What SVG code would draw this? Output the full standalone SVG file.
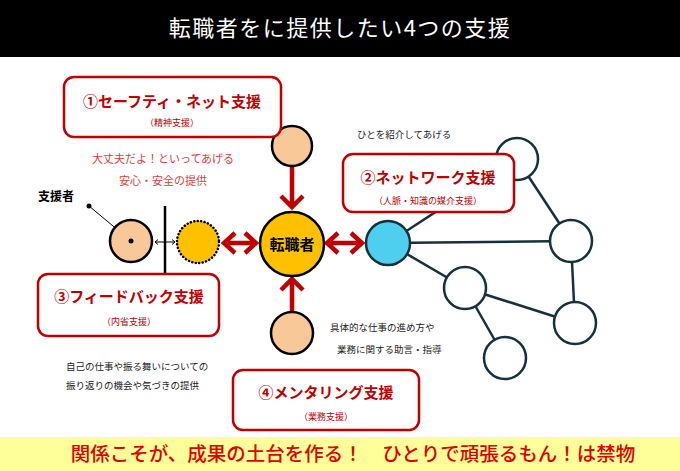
<svg xmlns="http://www.w3.org/2000/svg" width="680" height="471" viewBox="0 0 680 471">
<style>
text{font-family:"Noto Sans CJK JP","Noto Sans",sans-serif}
.box{fill:#fff;stroke:#c00000;stroke-width:2.5}
.bt{fill:#c00000;font-size:15px;font-weight:bold;text-anchor:middle}
.bs{fill:#c00000;font-size:9px;text-anchor:middle}
.rt{fill:#e03c3c;font-size:11px;text-anchor:middle}
.note{fill:#222;font-size:9.5px}
.peach{fill:#f9c899;stroke:#000;stroke-width:2.5}
.net{fill:#fff;stroke:#17313a;stroke-width:2.5}
.edge{stroke:#17313a;stroke-width:2.5;fill:none}
.ra{stroke:#c00000;stroke-width:4.5;fill:none;stroke-linejoin:miter}
</style>
<rect x="0" y="0" width="680" height="57" fill="#000"/>
<text x="340" y="36" fill="#fff" font-size="22" text-anchor="middle" letter-spacing="1.5">転職者をに提供したい4つの支援</text>
<rect x="0" y="437" width="680" height="34" fill="#ffff99"/>
<text x="353" y="461" fill="#e00000" font-size="19.5" font-weight="500" text-anchor="middle">関係こそが、成果の土台を作る！　ひとりで頑張るもん！は禁物</text>

<g id="connectors">
<line class="edge" x1="388" y1="243" x2="517" y2="159"/>
<line class="edge" x1="388" y1="243" x2="571" y2="241"/>
<line class="edge" x1="388" y1="243" x2="465" y2="288"/>
<line class="edge" x1="517" y1="159" x2="571" y2="241"/>
<line class="edge" x1="571" y1="241" x2="575" y2="323"/>
<line class="edge" x1="465" y1="288" x2="575" y2="323"/>
<line class="edge" x1="465" y1="288" x2="505" y2="358"/>
<path class="ra" d="M292,167 V206 M281,196 L292,207 L303,196"/>
<path class="ra" d="M292,312 V280 M281,290 L292,279 L303,290"/>
<path class="ra" d="M225,243 H256 M235,233 L224,243 L235,253 M245,233 L256,243 L245,253"/>
<path class="ra" d="M328,243 H361 M338,233 L327,243 L338,253 M351,233 L362,243 L351,253"/>
<line x1="165" y1="206" x2="165" y2="274" stroke="#000" stroke-width="2.5"/>
<path d="M155,242 H175 M158,239.5 L155,242 L158,244.5 M172,239.5 L175,242 L172,244.5" stroke="#000" stroke-width="1" fill="none"/>
<line x1="89" y1="206" x2="131" y2="241" stroke="#000" stroke-width="1"/>
<circle cx="89" cy="206" r="2.5" fill="#000"/>
</g>

<g id="net-nodes">
<circle class="net" cx="517" cy="159" r="21"/>
<circle class="net" cx="571" cy="241" r="21"/>
<circle class="net" cx="465" cy="288" r="21"/>
<circle class="net" cx="575" cy="323" r="21"/>
<circle class="net" cx="505" cy="358" r="21"/>
</g>

<g id="center">
<circle cx="292" cy="244" r="32" fill="#ffc000" stroke="#000" stroke-width="2.5"/>
<text x="292" y="249.5" font-size="15" font-weight="bold" text-anchor="middle" fill="#000">転職者</text>
</g>
<g id="top-person"><circle class="peach" cx="292" cy="146" r="20"/></g>
<g id="bottom-person"><circle class="peach" cx="292" cy="333" r="21"/></g>
<g id="blue-node"><circle cx="388" cy="243" r="22" fill="#4fcff0" stroke="#17313a" stroke-width="2.5"/></g>
<g id="mirror"><circle cx="198" cy="242" r="21" fill="#ffc000" stroke="#000" stroke-width="2.5" stroke-dasharray="0.1 3.4" stroke-linecap="round"/></g>
<g id="supporter">
<circle class="peach" cx="131" cy="241" r="21"/>
<circle cx="131" cy="241" r="2.5" fill="#000"/>
<text x="56" y="201" font-size="12" font-weight="bold" text-anchor="middle" fill="#000">支援者</text>
</g>

<g id="box1">
<rect class="box" x="64" y="77" width="217" height="60" rx="10"/>
<text class="bt" x="172" y="107" font-size="14.5">①セーフティ・ネット支援</text>
<text class="bs" x="172" y="126">（精神支援）</text>
</g>
<text class="rt" x="163" y="163">大丈夫だよ！といってあげる</text>
<text class="rt" x="163" y="185">安心・安全の提供</text>

<g id="box2">
<rect class="box" x="343" y="154" width="171" height="58" rx="10"/>
<text class="bt" x="428" y="183">②ネットワーク支援</text>
<text class="bs" x="428" y="204" font-size="8.5">（人脈・知識の媒介支援）</text>
</g>
<text class="note" x="357" y="138" font-size="8.5">ひとを紹介してあげる</text>

<g id="box3">
<rect class="box" x="38" y="274" width="181" height="62" rx="10"/>
<text class="bt" x="129" y="302">③フィードバック支援</text>
<text class="bs" x="129" y="325">（内省支援）</text>
</g>
<text class="note" x="66" y="370">自己の仕事や振る舞いについての</text>
<text class="note" x="66" y="389">振り返りの機会や気づきの提供</text>

<g id="box4">
<rect class="box" x="233" y="370" width="186" height="60" rx="10"/>
<text class="bt" x="326" y="398">④メンタリング支援</text>
<text class="bs" x="326" y="420">（業務支援）</text>
</g>
<text class="note" x="330" y="331" font-size="11">具体的な仕事の進め方や</text>
<text class="note" x="337" y="353" font-size="11">業務に関する助言・指導</text>
</svg>
